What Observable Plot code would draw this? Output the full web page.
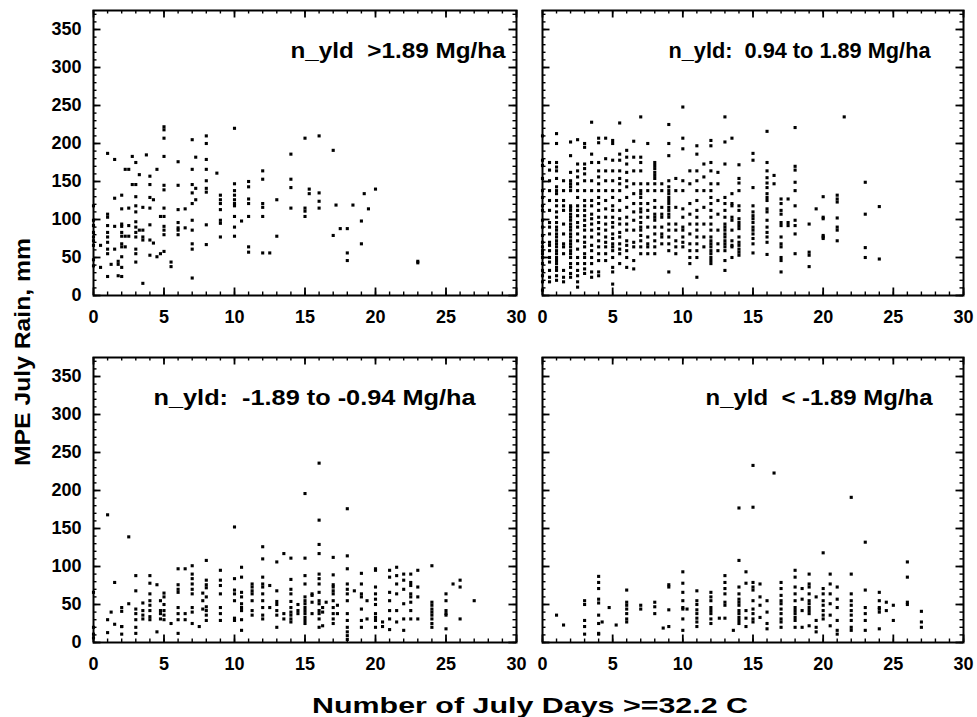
<!DOCTYPE html>
<html><head><meta charset="utf-8">
<script src="https://cdn.jsdelivr.net/npm/d3@7"></script>
<script src="https://cdn.jsdelivr.net/npm/@observablehq/plot@0.6"></script>
<style>
body{margin:0;background:#fff;}
#wrap{position:relative;width:977px;height:717px;background:#fff;overflow:hidden;font-family:"Liberation Sans",Arial,sans-serif;}
#wrap > svg{position:absolute;}
svg text{white-space:pre;}
</style></head><body><div id="wrap"></div>
<script>
// ---------------- data ----------------
const panelTitles = ["n_yld  >1.89 Mg/ha", "n_yld:  0.94 to 1.89 Mg/ha", "n_yld:  -1.89 to -0.94 Mg/ha", "n_yld  < -1.89 Mg/ha"];
const xTitle = "Number of July Days >=32.2 C";
const yTitle = "MPE July Rain, mm";
const xTickLabels = [0, 5, 10, 15, 20, 25, 30];
const yTickLabels = [0, 50, 100, 150, 200, 250, 300, 350];

// [days >= 32.2 C, [July rain values, mm]]
const colsHigh = [
 [0, [118, 99, 92, 83, 77, 72, 66, 47, 39]],
 [0.5, [66, 37]],
 [1, [187, 107, 103, 92, 83, 77, 70, 61, 55, 25]],
 [1.25, [41]],
 [1.5, [179, 128, 91, 61]],
 [1.75, [45, 41, 26]],
 [2, [132, 114, 94, 91, 83, 78, 68, 64, 51, 37, 25]],
 [2.25, [166, 78, 64]],
 [2.5, [166, 115, 92, 78]],
 [2.75, [183, 146]],
 [3, [175, 146, 130, 118, 110, 97, 90, 83, 77, 61, 55, 44]],
 [3.25, [159, 86]],
 [3.5, [116, 86, 77, 73, 16]],
 [3.75, [185]],
 [4, [157, 146, 129, 115, 93, 73, 53]],
 [4.25, [126, 69]],
 [4.5, [166, 51]],
 [4.75, [104, 55]],
 [5, [222, 218, 207, 183, 145, 139, 115, 104, 91, 86, 80, 58]],
 [5.5, [44, 38]],
 [6, [176, 145, 113, 96, 89, 86, 80]],
 [6.5, [114, 89]],
 [7, [205, 166, 146, 135, 121, 99, 86, 68, 61, 23]],
 [7.25, [182, 141, 126]],
 [8, [210, 200, 179, 166, 151, 141, 136, 93, 67]],
 [8.75, [161]],
 [9, [132, 126, 121, 113, 99, 95, 77]],
 [10, [220, 147, 138, 132, 126, 121, 118, 104, 90, 78]],
 [10.5, [98]],
 [11, [150, 143, 127, 121, 104, 64, 57]],
 [12, [164, 153, 121, 116, 104, 56]],
 [12.5, [56]],
 [13, [126, 78]],
 [14, [186, 153, 142, 115]],
 [15, [207, 115, 111, 104]],
 [15.3, [140, 134]],
 [16, [210, 135, 124, 115]],
 [17, [191, 79]],
 [17.2, [119]],
 [17.5, [88]],
 [18, [88, 56, 46]],
 [18.4, [119]],
 [19, [98, 68]],
 [19.2, [134]],
 [19.5, [114]],
 [20, [140]],
 [23, [45, 43]]
];

const colsMid = [
 [0, [210, 178, 171, 154, 138, 129, 118, 112, 99, 90, 79, 70, 64, 59, 55, 50, 42, 33, 26, 18, 7]],
 [0.5, [175, 165, 151, 138, 125, 112, 96, 90, 81, 70, 66, 59, 50, 44, 33, 24, 18]],
 [1, [213, 200, 175, 169, 164, 154, 143, 138, 134, 125, 118, 110, 103, 96, 90, 86, 81, 77, 72, 68, 64, 59, 55, 50, 46, 42, 37, 33, 26, 20]],
 [1.5, [151, 138, 125, 118, 112, 94, 81, 68, 64, 55, 33, 24, 18]],
 [2, [202, 184, 162, 151, 147, 143, 138, 118, 116, 112, 107, 103, 99, 94, 90, 86, 81, 77, 72, 68, 64, 59, 55, 50, 42, 37, 29, 24]],
 [2.5, [205, 173, 164, 156, 147, 138, 129, 118, 112, 105, 96, 90, 81, 72, 61, 50, 42, 33, 26, 18, 11]],
 [3, [200, 195, 173, 167, 160, 151, 138, 125, 118, 112, 105, 99, 92, 86, 77, 70, 64, 55, 50, 42, 35, 29]],
 [3.5, [228, 186, 175, 151, 138, 125, 118, 107, 101, 94, 86, 77, 66, 59, 50, 42, 31, 24]],
 [4, [207, 201, 175, 164, 156, 147, 138, 129, 121, 112, 103, 96, 88, 81, 72, 64, 55, 46, 31, 26]],
 [4.5, [207, 180, 164, 151, 138, 125, 114, 103, 94, 86, 77, 70, 64, 55, 46]],
 [5, [204, 200, 178, 164, 151, 138, 129, 118, 112, 103, 96, 90, 81, 75, 68, 64, 59, 50, 37, 31, 15]],
 [5.5, [227, 186, 178, 164, 154, 147, 138, 125, 112, 101, 94, 83, 77, 68, 61, 55, 42]],
 [6, [191, 182, 173, 162, 151, 143, 129, 116, 103, 94, 86, 72, 66, 59, 50, 37]],
 [6.5, [203, 182, 164, 147, 134, 121, 110, 99, 86, 70, 64, 46, 35]],
 [7, [235, 182, 175, 164, 147, 138, 134, 129, 121, 114, 110, 103, 96, 90, 86, 79, 72, 64, 55]],
 [7.5, [200, 147, 138, 121, 112, 103, 90, 77, 68, 64, 55]],
 [8, [175, 171, 167, 162, 158, 154, 147, 138, 125, 116, 107, 103, 99, 90, 81, 72, 64, 55]],
 [8.5, [147, 138, 116, 107, 103, 90, 81, 77, 68]],
 [9, [225, 200, 184, 151, 143, 138, 134, 129, 125, 121, 116, 112, 107, 103, 94, 86, 77, 68, 59, 31]],
 [9.5, [154, 138, 116, 94, 86, 72, 64, 55]],
 [10, [248, 207, 193, 151, 138, 114, 103, 90, 86, 77, 70, 64]],
 [10.5, [164, 147, 121, 107, 94, 81, 68, 59, 50, 42]],
 [11, [197, 186, 164, 151, 138, 125, 112, 103, 94, 86, 77, 68, 59, 50, 24]],
 [11.5, [173, 156, 138, 116, 94, 77, 64]],
 [12, [204, 197, 175, 164, 147, 138, 129, 121, 112, 103, 94, 86, 77, 72, 68, 64, 59, 55, 50, 46, 42]],
 [12.5, [162, 147, 125, 107, 86, 68, 59]],
 [13, [235, 202, 173, 129, 121, 112, 103, 94, 90, 86, 81, 77, 72, 68, 64, 59, 46, 33]],
 [13.5, [207, 134, 121, 118, 103, 99, 86, 72, 66, 64, 50]],
 [14, [172, 154, 148, 138, 118, 112, 101, 96, 92, 88, 77, 70, 66, 61, 57, 53]],
 [15, [187, 178, 142, 118, 110, 105, 101, 96, 90, 86, 81, 75, 68, 56]],
 [16, [216, 175, 164, 155, 148, 142, 134, 129, 125, 114, 110, 99, 90, 83, 77, 70, 54]],
 [16.5, [158, 147]],
 [17, [127, 121, 112, 107, 96, 92, 77, 68, 64, 50, 46, 31]],
 [17.5, [127, 96, 92]],
 [18, [221, 170, 165, 149, 138, 118, 99, 92, 81, 55]],
 [19, [94, 57, 53, 38]],
 [19.5, [114]],
 [20, [130, 103, 101, 79, 77, 75]],
 [21, [132, 127, 123, 102, 90, 86, 72]],
 [21.5, [235]],
 [23, [149, 107, 63, 50]],
 [24, [117, 48]]
];

const colsLow = [
 [0, [66, 20, 11, 6]],
 [1, [168, 30, 13]],
 [1.25, [40]],
 [1.5, [79, 24]],
 [2, [46, 41, 21, 21, 11]],
 [2.5, [139, 51]],
 [3, [88, 68, 44, 38, 30, 20, 12]],
 [3.5, [52, 42, 36, 31]],
 [4, [88, 78, 64, 55, 49, 42, 34, 30]],
 [4.5, [76, 14]],
 [4.75, [55, 42, 38, 31]],
 [5, [65, 60, 50, 42, 36, 30]],
 [5.5, [25]],
 [6, [97, 76, 70, 66, 46, 38, 30, 12]],
 [6.5, [97, 38, 30]],
 [7, [101, 90, 84, 77, 70, 64, 46, 40, 25]],
 [7.5, [21]],
 [7.75, [65, 55, 44]],
 [8, [108, 82, 76, 72, 60, 47, 42, 36, 29]],
 [9, [95, 82, 75, 64, 46, 38, 29]],
 [10, [152, 84, 69, 64, 55, 32, 29]],
 [10.5, [99, 86, 66, 60, 51, 46, 42, 30, 16]],
 [11.25, [77, 73, 68, 64, 55, 42, 36]],
 [12, [126, 110, 86, 77, 73, 64, 55, 46, 36, 31]],
 [12.5, [75, 46]],
 [13, [106, 68, 54, 50, 42, 36, 20]],
 [13.5, [117, 38, 31]],
 [14, [111, 83, 70, 64, 54, 46, 40, 36, 31, 27]],
 [14.5, [50, 42, 38]],
 [15, [196, 111, 88, 77, 60, 55, 51, 46, 42, 38, 33, 29, 25]],
 [15.5, [64, 62, 53, 38]],
 [16, [236, 161, 129, 117, 90, 84, 77, 66, 55, 51, 42, 38, 31, 20]],
 [16.25, [46, 40, 22]],
 [16.5, [53]],
 [17, [112, 89, 76, 73, 68, 64, 55, 46, 38, 31, 25]],
 [17.3, [49, 38]],
 [18, [176, 114, 97, 77, 70, 64, 55, 38, 29, 20, 14, 9, 4]],
 [18.5, [68]],
 [19, [91, 77, 64, 60, 44, 29, 20]],
 [19.4, [55, 31]],
 [20, [97, 95, 73, 64, 57, 50, 38, 33, 29, 20]],
 [20.5, [27, 21]],
 [21, [95, 86, 66, 55, 42, 31, 17]],
 [21.5, [99, 88, 77, 64, 42, 27]],
 [22, [90, 82, 70, 51, 31, 16]],
 [22.5, [90, 79, 75, 64, 60, 53, 42, 31]],
 [23, [95, 73, 60, 31]],
 [24, [101, 53, 49, 44, 40, 36, 31, 25, 20]],
 [25, [64, 55, 42, 38, 36, 18]],
 [25.5, [77]],
 [26, [82, 73, 31]],
 [27, [55]]
];

const colsVeryLow = [
 [1, [36]],
 [1.5, [23]],
 [3, [55, 50, 29, 21, 11]],
 [4, [87, 79, 71, 57, 52, 36, 25, 12, 11]],
 [4.25, [27]],
 [4.75, [46]],
 [5.25, [23]],
 [6, [69, 53, 49, 44, 38, 31, 27]],
 [7, [49, 44]],
 [8, [53, 47, 38]],
 [8.6, [19]],
 [9, [76, 73, 43, 21]],
 [10, [93, 78, 66, 55, 46, 44, 31, 16]],
 [10.3, [44]],
 [11, [68, 55, 50, 43, 38, 32, 27, 21]],
 [12, [66, 60, 55, 46, 42, 38, 31, 25]],
 [12.6, [32]],
 [13, [88, 79, 71, 64, 53, 49, 32]],
 [13.6, [16]],
 [14, [177, 108, 73, 64, 57, 53, 49, 42, 38, 33, 29, 25]],
 [14.5, [93, 78, 42, 32, 21]],
 [15, [233, 178, 79, 73, 69, 55, 44, 38, 31, 27]],
 [15.5, [77, 60, 49, 33]],
 [16, [55, 40, 25, 18]],
 [16.5, [223]],
 [17, [79, 71, 62, 55, 51, 44, 38, 31, 27, 20]],
 [18, [95, 86, 73, 64, 55, 46, 42, 38, 33, 29, 20]],
 [18.5, [71, 57, 42, 20]],
 [19, [90, 77, 73, 64, 55, 51, 46, 42, 38, 22]],
 [19.5, [60, 29, 20, 14]],
 [20, [118, 71, 64, 55, 49, 42, 36, 31]],
 [20.5, [90, 77, 64, 51, 36, 22]],
 [21, [73, 57, 46, 29, 16, 11]],
 [22, [191, 90, 64, 55, 49, 42, 36, 29, 20, 16]],
 [23, [132, 69, 46, 38, 29, 16]],
 [24, [66, 55, 46, 44, 40, 18]],
 [24.5, [53, 42]],
 [25, [49, 29]],
 [26, [106, 86, 53, 50]],
 [27, [41, 27, 20]]
];

// ---------------- drawing ----------------
const xMinorTicks = d3.range(0, 31, 1);
const yMinorTicks = d3.range(0, 371, 10);
const FONT = "'Liberation Sans', Arial, Helvetica, sans-serif";

function flatten(cols) {
  const out = [];
  for (const [d, vals] of cols) for (const v of vals) out.push({day: d, rain: v});
  return out;
}

function panel({cols, title, showY, titleLeft, titleWidth}) {
  const W = showY ? 530 : 447, H = 330;
  const mL = showY ? 93 : 12, mR = 14, mT = 10, mB = 35;
  const FW = W - mL - mR, FH = H - mT - mB;
  const fig = Plot.plot({
    width: W, height: H,
    marginLeft: mL, marginRight: mR, marginTop: mT, marginBottom: mB,
    style: {fontFamily: FONT, background: "transparent", color: "black", overflow: "visible"},
    x: {domain: [0, 30]},
    y: {domain: [0, 375], axis: showY ? undefined : null},
    marks: [
      Plot.tickX(xTickLabels, {x: d => d, insetTop: FH - 7.5, strokeWidth: 1.8}),
      Plot.tickX(xTickLabels, {x: d => d, insetBottom: FH - 7.5, strokeWidth: 1.8}),
      Plot.tickX(xMinorTicks, {x: d => d, insetTop: FH - 3.5, strokeWidth: 1.4}),
      Plot.tickX(xMinorTicks, {x: d => d, insetBottom: FH - 3.5, strokeWidth: 1.4}),
      Plot.tickY(yTickLabels, {y: d => d, insetRight: FW - 7.5, strokeWidth: 1.8}),
      Plot.tickY(yTickLabels, {y: d => d, insetLeft: FW - 7.5, strokeWidth: 1.8}),
      Plot.tickY(yMinorTicks, {y: d => d, insetRight: FW - 3.5, strokeWidth: 1.4}),
      Plot.tickY(yMinorTicks, {y: d => d, insetLeft: FW - 3.5, strokeWidth: 1.4}),
      Plot.axisX({ticks: xTickLabels, tickSize: 0, tickPadding: 15, fontSize: 18, fontWeight: "bold", label: null}),
      showY ? Plot.axisY({ticks: yTickLabels, tickSize: 0, tickPadding: 12, fontSize: 18, fontWeight: "bold", label: null}) : null,
      Plot.frame({stroke: "black", strokeWidth: 2}),
      Plot.dot(flatten(cols), {x: "day", y: "rain", symbol: "square", r: 1.75, fill: "black", stroke: "none"}),
      Plot.text([title], {frameAnchor: "top-left", dx: titleLeft - mL, dy: 40, textAnchor: "start", lineAnchor: "middle",
        fontSize: 22, fontWeight: "bold", fill: "black", className: "ptitle"})
    ]
  });
  d3.select(fig).selectAll(".ptitle text")
    .attr("textLength", titleWidth).attr("lengthAdjust", "spacingAndGlyphs");
  return fig;
}

const wrap = document.getElementById("wrap");
const specs = [
  {cols: colsHigh, title: panelTitles[0], showY: true, left: 0, top: 0, titleLeft: 290, titleWidth: 215},
  {cols: colsMid, title: panelTitles[1], showY: false, left: 530, top: 0, titleLeft: 668 - 530, titleWidth: 262},
  {cols: colsLow, title: panelTitles[2], showY: true, left: 0, top: 347, titleLeft: 153, titleWidth: 322},
  {cols: colsVeryLow, title: panelTitles[3], showY: false, left: 530, top: 347, titleLeft: 705 - 530, titleWidth: 227}
];
for (const s of specs) {
  const fig = panel(s);
  fig.style.position = "absolute";
  fig.style.left = s.left + "px";
  fig.style.top = s.top + "px";
  wrap.appendChild(fig);
}

// axis titles
const ov = d3.select(wrap).append("svg")
  .attr("width", 977).attr("height", 717)
  .style("left", "0px").style("top", "0px").style("pointer-events", "none");
ov.append("text")
  .attr("transform", "translate(30,352) rotate(-90)")
  .attr("text-anchor", "middle")
  .attr("font-family", FONT).attr("font-weight", "bold").attr("font-size", 22)
  .attr("textLength", 228).attr("lengthAdjust", "spacingAndGlyphs")
  .text(yTitle);
ov.append("text")
  .attr("x", 530).attr("y", 713)
  .attr("text-anchor", "middle")
  .attr("font-family", FONT).attr("font-weight", "bold").attr("font-size", 22)
  .attr("textLength", 436).attr("lengthAdjust", "spacingAndGlyphs")
  .text(xTitle);
</script></body></html>
